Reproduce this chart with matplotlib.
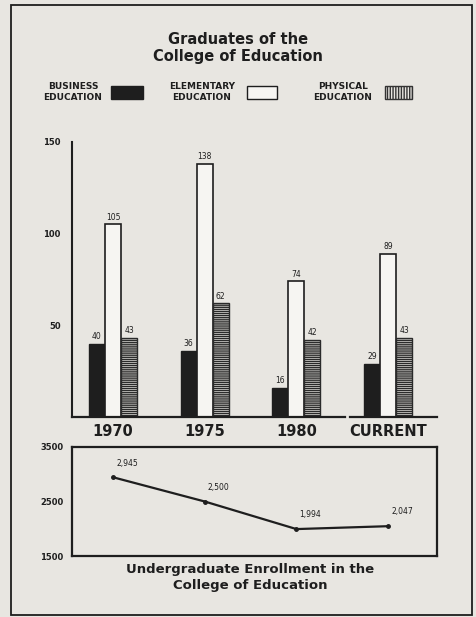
import matplotlib
matplotlib.use("Agg")
import matplotlib.pyplot as plt
from matplotlib.patches import Rectangle
import numpy as np

plt.rcParams["font.family"] = ["DejaVu Sans"]
plt.rcParams["hatch.linewidth"] = 1.0

# 数据
years = ["1970", "1975", "1980", "CURRENT"]
business = [40, 36, 16, 29]
elementary = [105, 138, 74, 89]
physical = [43, 62, 42, 43]
enrollment = [2945, 2500, 1994, 2047]
enroll_labels = ["2,945", "2,500", "1,994", "2,047"]

bg = "#e8e6e1"
ink = "#1e1e1e"

W, H = 476, 617
fig = plt.figure(figsize=(W / 100, H / 100), dpi=100)
fig.patch.set_facecolor(bg)


def box(x0, y0, x1, y1):
    # 像素坐标 -> figure 坐标
    return [x0 / W, 1 - y1 / H, (x1 - x0) / W, (y1 - y0) / H]


# 外框
fig.add_artist(Rectangle((11 / W, 1 - 615 / H), 461 / W, 610 / H,
                         transform=fig.transFigure, fill=False,
                         edgecolor=ink, linewidth=1.3))

# 标题
fig.text(238 / W, 1 - 40 / H, "Graduates of the", ha="center", va="center",
         fontsize=10.5, fontweight="bold", color=ink)
fig.text(238 / W, 1 - 57 / H, "College of Education", ha="center", va="center",
         fontsize=10.5, fontweight="bold", color=ink)

# 图例
leg_items = [
    ("BUSINESS\nEDUCATION", 73, (111, 143), dict(facecolor=ink, edgecolor=ink)),
    ("ELEMENTARY\nEDUCATION", 202, (247, 277), dict(facecolor="#f6f5f2", edgecolor=ink)),
    ("PHYSICAL\nEDUCATION", 343, (385, 412), dict(facecolor=bg, edgecolor="#333333", hatch="||||||")),
]
for txt, cx, (sx0, sx1), style in leg_items:
    fig.text(cx / W, 1 - 92 / H, txt, ha="center", va="center", fontsize=6.5,
             fontweight="bold", color=ink, linespacing=1.15)
    fig.add_artist(Rectangle((sx0 / W, 1 - 99 / H), (sx1 - sx0) / W, 13 / H,
                             transform=fig.transFigure, linewidth=1.0, **style))

# 柱状图
ax = fig.add_axes(box(72, 142, 437, 417))
ax.set_facecolor("none")
x = np.arange(len(years))
w = 0.175
b1 = ax.bar(x - w, business, w, color=ink, edgecolor=ink, linewidth=1.0)
b2 = ax.bar(x, elementary, w, color="#f6f5f2", edgecolor=ink, linewidth=1.2)
b3 = ax.bar(x + w, physical, w, color=bg, edgecolor="#2a2a2a", hatch="--------", linewidth=1.0)
for bars, vals in [(b1, business), (b2, elementary), (b3, physical)]:
    for rect, v in zip(bars, vals):
        ax.text(rect.get_x() + rect.get_width() / 2, v + 1.5, str(v),
                ha="center", va="bottom", fontsize=5.5, color=ink)

ax.set_xlim(-0.447, 3.533)
ax.set_ylim(0, 150)
ax.set_yticks([50, 100, 150])
ax.set_yticklabels(["50", "100", "150"], fontsize=6, fontweight="bold", color=ink)
ax.tick_params(axis="y", length=0, pad=8)
ax.set_xticks(x)
ax.set_xticklabels(years, fontsize=10.5, fontweight="bold", color=ink)
ax.tick_params(axis="x", length=0, pad=5)
for s in ["top", "right", "bottom"]:
    ax.spines[s].set_visible(False)
ax.spines["left"].set_linewidth(1.5)
ax.spines["left"].set_color(ink)
ax.axhline(0, xmin=0, xmax=0.748, color=ink, linewidth=1.6, clip_on=False)
ax.axhline(0, xmin=0.762, xmax=1, color=ink, linewidth=1.6, clip_on=False)

# 折线图
ax2 = fig.add_axes(box(72, 447, 437, 556))
ax2.set_facecolor("none")
ax2.plot(x, enrollment, color=ink, linewidth=1.6, marker="o", markersize=2.5)
for xi, v, lab in zip(x, enrollment, enroll_labels):
    ax2.annotate(lab, (xi, v), xytext=(10, 7), textcoords="offset points",
                 ha="center", va="bottom", fontsize=5.5, color=ink)
ax2.set_xlim(-0.447, 3.533)
ax2.set_ylim(1500, 3500)
ax2.set_xticks([])
ax2.set_yticks([1500, 2500, 3500])
ax2.set_yticklabels(["1500", "2500", "3500"], fontsize=6, fontweight="bold", color=ink)
ax2.tick_params(axis="y", length=0, pad=6)
for s in ax2.spines.values():
    s.set_linewidth(1.6)
    s.set_color(ink)

fig.text(250 / W, 1 - 570 / H, "Undergraduate Enrollment in the", ha="center",
         va="center", fontsize=9.5, fontweight="bold", color=ink)
fig.text(250 / W, 1 - 585 / H, "College of Education", ha="center",
         va="center", fontsize=9.5, fontweight="bold", color=ink)

fig.savefig("out.png", dpi=100, facecolor=bg)
